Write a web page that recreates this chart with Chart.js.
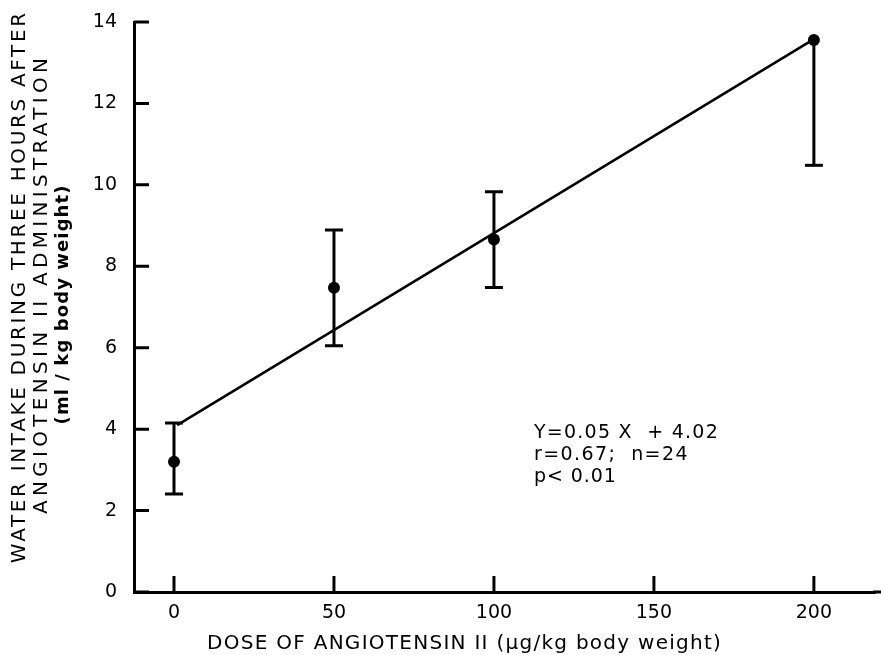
<!DOCTYPE html>
<html>
<head>
<meta charset="utf-8">
<script src="https://cdn.jsdelivr.net/npm/chart.js@4"></script>
<style>
  html, body { margin: 0; padding: 0; background: #fff; }
  #wrap { width: 881px; height: 655px; }
</style>
</head>
<body>
<div id="wrap"><canvas id="chart" width="881" height="655"></canvas></div>
<script>
// data
const doses = [0, 50, 100, 200];
const meanIntake = [3.2, 7.47, 8.66, 13.56];
const upperErr = [4.15, 8.89, 9.83, null];
const lowerErr = [2.41, 6.05, 7.48, 10.48];
const fitX = [1, 200];
const fitY = [4.1, 13.58];
const xTicks = [0, 50, 100, 150, 200];
const yTicks = [0, 2, 4, 6, 8, 10, 12, 14];
const statLines = ["Y=0.05 X  + 4.02", "r=0.67;  n=24", "p< 0.01"];
const yTitle = ["WATER INTAKE DURING THREE HOURS AFTER", "ANGIOTENSIN II ADMINISTRATION", "(ml / kg body weight)"];
const xTitle = "DOSE OF ANGIOTENSIN II (\u00b5g/kg body weight)";

const FONT = "'DejaVu Sans', sans-serif";

// draw text stretched with letter spacing to a given width
function spacedText(ctx, text, x, y, width) {
  ctx.letterSpacing = "0px";
  const w = ctx.measureText(text).width;
  const s = Math.max(0, (width - w) / text.length);
  ctx.letterSpacing = s.toFixed(2) + "px";
  ctx.fillText(text, x + (ctx.textAlign === "center" ? s / 2 : 0), y);
  ctx.letterSpacing = "0px";
}

const extras = {
  id: "extras",
  afterDatasetsDraw(chart) {
    const ctx = chart.ctx;
    const xs = chart.scales.x;
    const ys = chart.scales.y;
    ctx.save();
    ctx.strokeStyle = "#000";
    ctx.lineWidth = 3;
    ctx.lineCap = "butt";

    // error bars
    doses.forEach((d, i) => {
      const px = xs.getPixelForValue(d);
      const top = ys.getPixelForValue(upperErr[i] != null ? upperErr[i] : meanIntake[i]);
      const bot = ys.getPixelForValue(lowerErr[i]);
      ctx.beginPath();
      ctx.moveTo(px, top);
      ctx.lineTo(px, bot);
      ctx.stroke();
      ctx.beginPath();
      ctx.moveTo(px - 9, bot);
      ctx.lineTo(px + 9, bot);
      if (upperErr[i] != null) {
        ctx.moveTo(px - 9, top);
        ctx.lineTo(px + 9, top);
      }
      ctx.stroke();
    });

    // inward tick marks, x axis line carried to the edge
    const left = chart.chartArea.left;
    const bottom = chart.chartArea.bottom;
    ctx.beginPath();
    yTicks.forEach(v => {
      const py = ys.getPixelForValue(v);
      ctx.moveTo(left, py);
      ctx.lineTo(left + 15, py);
    });
    xTicks.forEach(v => {
      const px = xs.getPixelForValue(v);
      ctx.moveTo(px, bottom);
      ctx.lineTo(px, bottom - 16);
    });
    ctx.moveTo(chart.chartArea.right - 2, bottom);
    ctx.lineTo(chart.width, bottom);
    ctx.stroke();

    // statistics text
    ctx.fillStyle = "#000";
    ctx.font = "19px " + FONT;
    ctx.textAlign = "left";
    ctx.textBaseline = "middle";
    const tx = xs.getPixelForValue(112.5);
    const statW = [185, 155, 83];
    statLines.forEach((s, i) => {
      spacedText(ctx, s, tx, ys.getPixelForValue(3.9) + i * 22, statW[i]);
    });

    // axis titles
    ctx.textAlign = "center";
    ctx.font = "20px " + FONT;
    spacedText(ctx, xTitle, 464, 644, 515);

    const cols = [20, 42, 63];
    const mids = [288, 286, 305];
    const widths = [553, 460, 240];
    ctx.rotate(-Math.PI / 2);
    yTitle.forEach((s, i) => {
      ctx.font = (i === 2 ? "bold 18px " : "20px ") + FONT;
      spacedText(ctx, s, -mids[i], cols[i], widths[i]);
    });
    ctx.restore();
  }
};

new Chart(document.getElementById("chart"), {
  type: "scatter",
  data: {
    datasets: [
      {
        label: "mean",
        data: doses.map((d, i) => ({ x: d, y: meanIntake[i] })),
        pointRadius: 6,
        pointBackgroundColor: "#000",
        pointBorderWidth: 0,
        borderColor: "#000"
      },
      {
        label: "fit",
        type: "line",
        data: fitX.map((d, i) => ({ x: d, y: fitY[i] })),
        borderColor: "#000",
        borderWidth: 2.5,
        pointRadius: 0,
        fill: false
      }
    ]
  },
  options: {
    responsive: false,
    animation: false,
    layout: { padding: { top: 22, right: 0, bottom: 0, left: 0 } },
    plugins: { legend: { display: false }, tooltip: { enabled: false } },
    scales: {
      x: {
        type: "linear",
        min: -12.5,
        max: 219.1,
        afterBuildTicks: s => { s.ticks = xTicks.map(v => ({ value: v })); },
        afterFit: s => { s.height = 63; s.paddingLeft = 0; s.paddingRight = 0; },
        grid: { display: false, drawTicks: false },
        border: { display: true, color: "#000", width: 3 },
        ticks: { color: "#000", font: { family: FONT, size: 19 }, padding: 10 }
      },
      y: {
        min: 0,
        max: 14,
        afterBuildTicks: s => { s.ticks = yTicks.map(v => ({ value: v })); },
        afterFit: s => { s.width = 134; s.paddingTop = 0; s.paddingBottom = 0; },
        grid: { display: false, drawTicks: false },
        border: { display: true, color: "#000", width: 3 },
        ticks: { color: "#000", font: { family: FONT, size: 19 }, padding: 17 }
      }
    }
  },
  plugins: [extras]
});
</script>
</body>
</html>
